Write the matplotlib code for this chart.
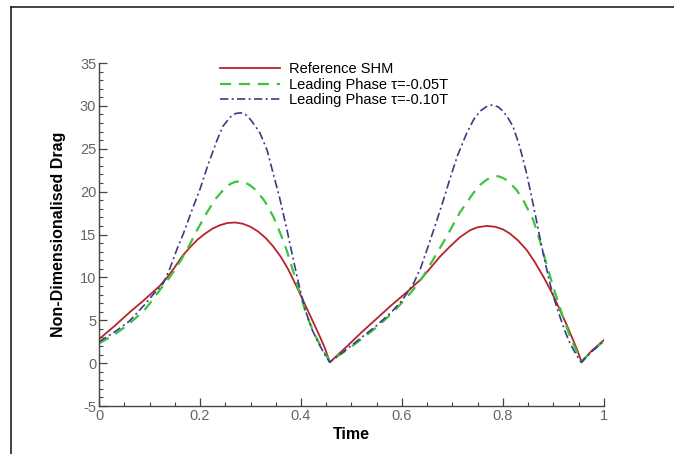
import matplotlib
matplotlib.use("Agg")
import matplotlib.pyplot as plt
from matplotlib.lines import Line2D
from matplotlib.ticker import MultipleLocator, FuncFormatter

plt.rcParams['font.family'] = ['Liberation Sans', 'DejaVu Sans']
plt.rcParams['axes.unicode_minus'] = False

# Reference SHM drag history
t_ref = [0.0, 0.03, 0.06, 0.09, 0.12, 0.135, 0.15, 0.165, 0.18, 0.195, 0.21, 0.225,
         0.24, 0.255, 0.27, 0.285, 0.30, 0.315, 0.33, 0.345, 0.36, 0.375, 0.39,
         0.405, 0.42, 0.435, 0.447, 0.457,
         0.49, 0.52, 0.55, 0.58, 0.61, 0.636, 0.655, 0.675, 0.695, 0.715, 0.735,
         0.75, 0.768, 0.785, 0.80, 0.814, 0.83, 0.847, 0.863, 0.88, 0.897, 0.913,
         0.926, 0.939, 0.948, 0.956, 0.975, 1.0]
d_ref = [2.8, 4.3, 5.9, 7.4, 9.0, 10.0, 11.2, 12.5, 13.5, 14.4, 15.1, 15.7,
         16.1, 16.35, 16.4, 16.25, 15.9, 15.35, 14.6, 13.6, 12.4, 10.9, 9.1,
         7.2, 5.3, 3.4, 1.8, 0.1,
         1.9, 3.6, 5.2, 6.8, 8.3, 9.7, 11.0, 12.4, 13.6, 14.7, 15.5,
         15.85, 16.0, 15.9, 15.6, 15.1, 14.3, 13.2, 11.8, 10.1, 8.2, 6.2,
         4.5, 2.7, 1.4, 0.1, 1.4, 2.7]

# Leading phase, tau = -0.05T
t_05 = [0.0, 0.03, 0.06, 0.09, 0.101, 0.12, 0.141, 0.158, 0.174, 0.195, 0.213,
        0.23, 0.246, 0.26, 0.27, 0.28, 0.29, 0.30, 0.312, 0.328, 0.345, 0.36,
        0.372, 0.385, 0.398, 0.411, 0.425, 0.438, 0.457,
        0.49, 0.52, 0.55, 0.58, 0.596, 0.62, 0.642, 0.665, 0.688, 0.715, 0.741,
        0.755, 0.768, 0.78, 0.79, 0.80, 0.81, 0.827, 0.843, 0.86, 0.873, 0.886,
        0.896, 0.906, 0.92, 0.933, 0.945, 0.955, 0.975, 1.0]
d_05 = [2.3, 3.3, 4.6, 6.2, 7.0, 8.5, 10.1, 11.6, 13.2, 15.6, 17.5,
        19.1, 20.2, 20.9, 21.15, 21.2, 21.05, 20.7, 20.1, 18.9, 17.1, 15.0,
        13.1, 10.6, 8.1, 5.6, 3.6, 2.1, 0.2,
        1.5, 2.8, 4.2, 5.8, 6.8, 8.4, 10.1, 12.4, 14.7, 17.6, 19.8,
        20.8, 21.4, 21.7, 21.8, 21.6, 21.25, 20.2, 18.7, 16.7, 14.3, 11.6,
        9.6, 7.7, 5.2, 3.1, 1.5, 0.2, 1.3, 2.6]

# Leading phase, tau = -0.10T
t_10 = [0.0, 0.03, 0.06, 0.09, 0.11, 0.127, 0.14, 0.155, 0.167, 0.185, 0.2, 0.215,
        0.233, 0.245, 0.26, 0.27, 0.28, 0.29, 0.30, 0.31, 0.319, 0.333, 0.345,
        0.358, 0.372, 0.385, 0.398, 0.41, 0.422, 0.435, 0.447, 0.457,
        0.49, 0.52, 0.55, 0.58, 0.60, 0.623, 0.637, 0.65, 0.666, 0.682, 0.695,
        0.71, 0.728, 0.742, 0.755, 0.767, 0.778, 0.79, 0.80, 0.81, 0.82, 0.833,
        0.847, 0.86, 0.873, 0.883, 0.893, 0.903, 0.913, 0.923, 0.933, 0.944,
        0.955, 0.975, 1.0]
d_10 = [2.5, 3.6, 4.9, 6.8, 8.2, 9.3, 11.0, 13.4, 15.1, 18.0, 20.3, 23.0,
        25.9, 27.6, 28.7, 29.1, 29.2, 29.0, 28.4, 27.6, 26.8, 24.8, 22.1,
        19.2, 15.6, 12.0, 8.6, 5.9, 3.9, 2.3, 1.0, 0.1,
        1.6, 3.0, 4.4, 6.0, 7.3, 9.3, 11.1, 13.3, 16.1, 19.0, 21.5,
        24.2, 26.8, 28.4, 29.4, 29.9, 30.1, 29.9, 29.4, 28.6, 27.6, 25.3,
        22.1, 18.5, 14.7, 11.9, 9.3, 7.2, 5.4, 3.7, 2.3, 1.1,
        0.1, 1.3, 2.6]

labels = ['Reference SHM', 'Leading Phase \u03c4=-0.05T', 'Leading Phase \u03c4=-0.10T']

fig = plt.figure(figsize=(6.74, 4.54), dpi=100)
ax = fig.add_axes([0.147, 0.1057, 0.749, 0.7555])

ax.plot(t_ref, d_ref, color='#b8232b', lw=1.3, label=labels[0])
ax.plot(t_05, d_05, color='#3cc43c', lw=1.6, ls=(0, (5, 3.5)), label=labels[1])
ax.plot(t_10, d_10, color='#3a3a8c', lw=1.2, ls=(0, (5, 2, 1.2, 2)), label=labels[2])

ax.set_xlim(0, 1)
ax.set_ylim(-5, 35)
ax.xaxis.set_major_locator(MultipleLocator(0.2))
ax.xaxis.set_minor_locator(MultipleLocator(0.05))
ax.yaxis.set_major_locator(MultipleLocator(5))
ax.yaxis.set_minor_locator(MultipleLocator(1))
ax.xaxis.set_major_formatter(FuncFormatter(lambda v, p: f'{v:g}'))

for s in ('top', 'right'):
    ax.spines[s].set_visible(False)
for s in ('left', 'bottom'):
    ax.spines[s].set_color('#444444')
    ax.spines[s].set_linewidth(1.0)

ax.tick_params(which='both', direction='in', color='#444444', labelcolor='#666666',
               labelsize=10.5)
ax.tick_params(which='major', length=6, width=0.9, pad=2)
ax.tick_params(which='minor', length=3, width=0.8)

ax.set_xlabel('Time', fontsize=11.5, fontweight='bold', labelpad=3)
ax.set_ylabel('Non-Dimensionalised Drag', fontsize=11.5, fontweight='bold', labelpad=10)

fig.legend(loc='upper left', bbox_to_anchor=(0.326, 0.863), frameon=False,
           fontsize=10.5, handlelength=4.1, handletextpad=0.68, labelspacing=0.1,
           borderpad=0, borderaxespad=0)

# page frame
fig.add_artist(Line2D([11 / 674, 1.0], [1 - 7 / 454, 1 - 7 / 454],
                      transform=fig.transFigure, color='#222222', lw=1.2))
fig.add_artist(Line2D([11 / 674, 11 / 674], [0.0, 1 - 7 / 454],
                      transform=fig.transFigure, color='#222222', lw=1.2))

fig.savefig('out.png', dpi=100)
